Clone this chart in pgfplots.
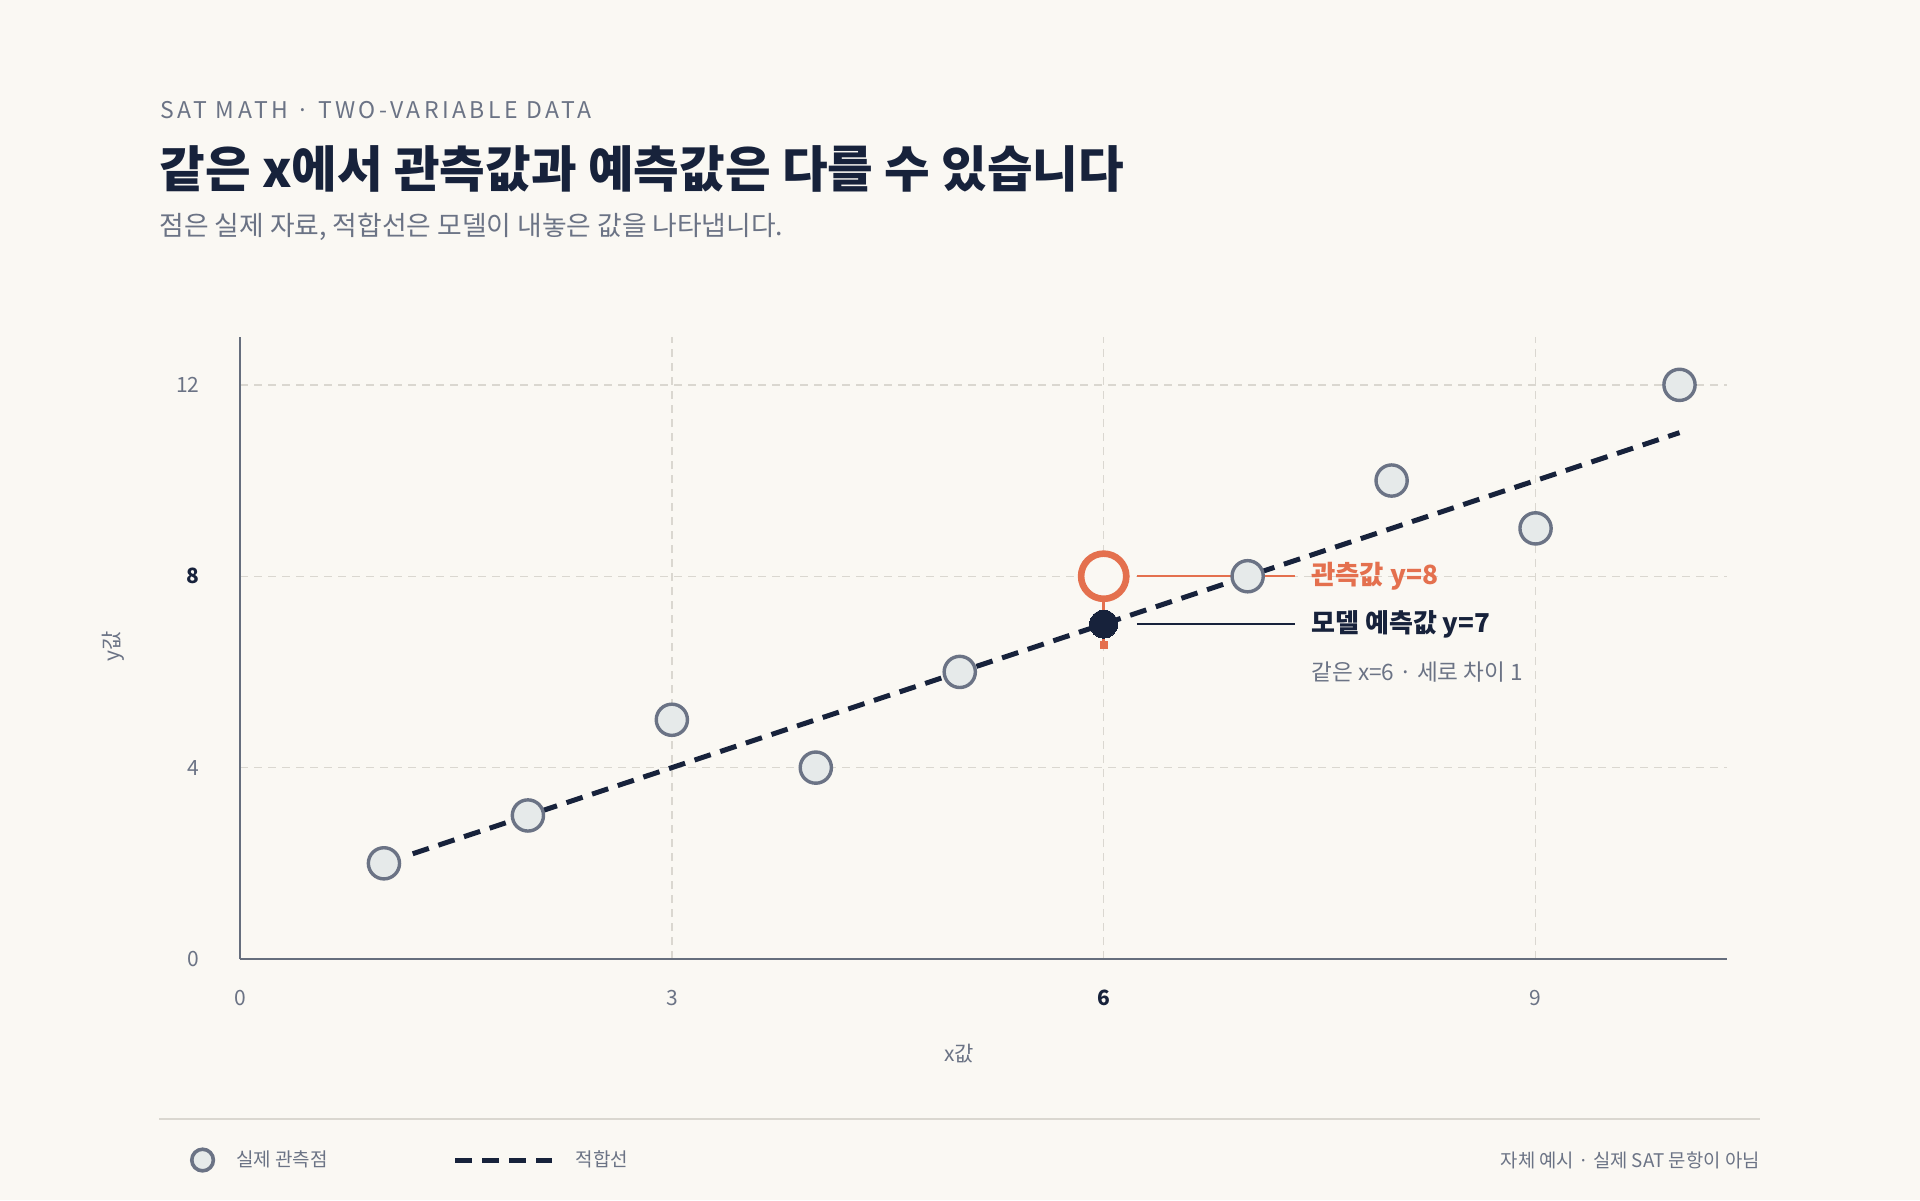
\documentclass[border=0pt]{standalone}
\usepackage{fontspec}
\setmainfont{Noto Sans CJK KR}
\usepackage{pgfplots}
\pgfplotsset{compat=1.18}

\definecolor{bg}{HTML}{FAF8F3}
\definecolor{navy}{HTML}{17223B}
\definecolor{txtgray}{HTML}{6B7385}
\definecolor{gridc}{HTML}{DAD7D0}
\definecolor{axisc}{HTML}{666E7D}
\definecolor{accent}{HTML}{E4704E}
\definecolor{ptfill}{HTML}{E6EAEA}
\definecolor{ptedge}{HTML}{6B7385}

\begin{document}
\begin{tikzpicture}
% page: 1920x1200 px at 0.5pt per px
\fill[bg] (0pt,0pt) rectangle (960pt,600pt);

% header
\node[anchor=base west, inner sep=0pt, text=txtgray, font=\fontsize{11.5}{13}\selectfont\addfontfeatures{LetterSpace=15}]
  at (80pt,540.5pt) {SAT MATH · TWO-VARIABLE DATA};
\node[anchor=base west, inner sep=0pt, text=navy, font=\fontsize{24.8}{28}\selectfont\bfseries]
  at (79.5pt,506pt) {같은 x에서 관측값과 예측값은 다를 수 있습니다};
\node[anchor=base west, inner sep=0pt, text=txtgray, font=\fontsize{13.4}{16}\selectfont]
  at (79.5pt,482pt) {점은 실제 자료, 적합선은 모델이 내놓은 값을 나타냅니다.};

% footer
\draw[gridc, line width=1pt] (79.5pt,40.5pt) -- (880pt,40.5pt);
\node[anchor=east, inner sep=0pt, text=txtgray, font=\fontsize{9.4}{11}\selectfont]
  at (880pt,20pt) {자체 예시 · 실제 SAT 문항이 아님};

\begin{axis}[
    at={(120pt,120.5pt)}, anchor=south west,
    width=743.5pt, height=311pt, scale only axis,
    xmin=0, xmax=10.33,
    ymin=0, ymax=13,
    clip=false,
    axis lines=left,
    axis line style={axisc, line width=1pt, -},
    xtick={0,3,6,9},
    ytick={0,4,8,12},
    xticklabels={0,3,{\bfseries\color{navy}6},9},
    yticklabels={0,4,{\bfseries\color{navy}8},12},
    major tick length=0pt,
    ticklabel style={font=\fontsize{10.5}{12}\selectfont, text=txtgray, inner sep=0pt},
    xticklabel style={anchor=center, yshift=-19.5pt},
    yticklabel style={anchor=east, xshift=-20pt},
    grid=major,
    grid style={gridc, line width=0.7pt, dash pattern=on 4pt off 3pt},
    xlabel={x값},
    ylabel={y값},
    label style={font=\fontsize{10.5}{12}\selectfont, text=txtgray},
    xlabel style={at={(axis description cs:0.4835,-0.1527)}, anchor=center},
    ylabel style={at={(axis description cs:-0.0854,0.502)}, anchor=center},
    reverse legend,
    legend columns=2,
    legend cell align=left,
    legend style={at={(axis description cs:-0.0339,-0.3232)}, anchor=west,
        draw=none, fill=none, inner sep=0pt,
        font=\fontsize{9.5}{11}\selectfont, text=txtgray,
        nodes={inner sep=0pt},
        /tikz/every odd column/.append style={column sep=10.5pt},
        /tikz/every even column/.append style={column sep=62.5pt}},
]

% fitted line y = x + 1
\addplot[navy, line width=2.5pt, dash pattern=on 8.5pt off 5pt,
    legend image code/.code={\draw[navy, line width=2.5pt, dash pattern=on 8.5pt off 5pt] (0pt,0pt) -- (48.5pt,0pt);}]
    coordinates {(1.2,2.2) (10,11)};
\addlegendentry{적합선}

% observed points
\addplot[only marks, mark=*, mark size=7.8pt,
    mark options={fill=ptfill, draw=ptedge, line width=1.7pt},
    legend image code/.code={\draw[ptedge, fill=ptfill, line width=1.8pt] (0pt,0pt) circle (5.4pt);}]
    coordinates {(1,2) (2,3) (3,5) (4,4) (5,6) (7,8) (8,10) (9,9) (10,12)};
\addlegendentry{실제 관측점}

% model prediction at x=6
\addplot[forget plot, only marks, mark=*, mark size=7pt,
    mark options={fill=navy, draw=navy, line width=0pt}]
    coordinates {(6,7)};

% vertical gap stem
\addplot[forget plot, accent, line width=1.3pt, mark=square*, mark indices={2}, mark size=1.8pt,
    mark options={fill=accent, draw=accent, line width=0pt}]
    coordinates {(6,8) (6,6.57)};

% highlighted observation at x=6
\addplot[forget plot, only marks, mark=*, mark size=11.3pt,
    mark options={fill=bg, draw=accent, line width=3.3pt}]
    coordinates {(6,8)};

% leader lines
\addplot[forget plot, accent, line width=1pt] coordinates {(6.23,8) (7.33,8)};
\addplot[forget plot, navy, line width=1pt] coordinates {(6.23,7) (7.33,7)};

\node[anchor=west, inner sep=0pt, text=accent, font=\fontsize{13.2}{15}\selectfont\bfseries]
    at (axis cs:7.44,8) {관측값 y=8};
\node[anchor=west, inner sep=0pt, text=navy, font=\fontsize{13}{15}\selectfont\bfseries]
    at (axis cs:7.44,7) {모델 예측값 y=7};
\node[anchor=west, inner sep=0pt, text=txtgray, font=\fontsize{11.3}{13}\selectfont]
    at (axis cs:7.44,6) {같은 x=6 · 세로 차이 1};

\end{axis}
\end{tikzpicture}
\end{document}
